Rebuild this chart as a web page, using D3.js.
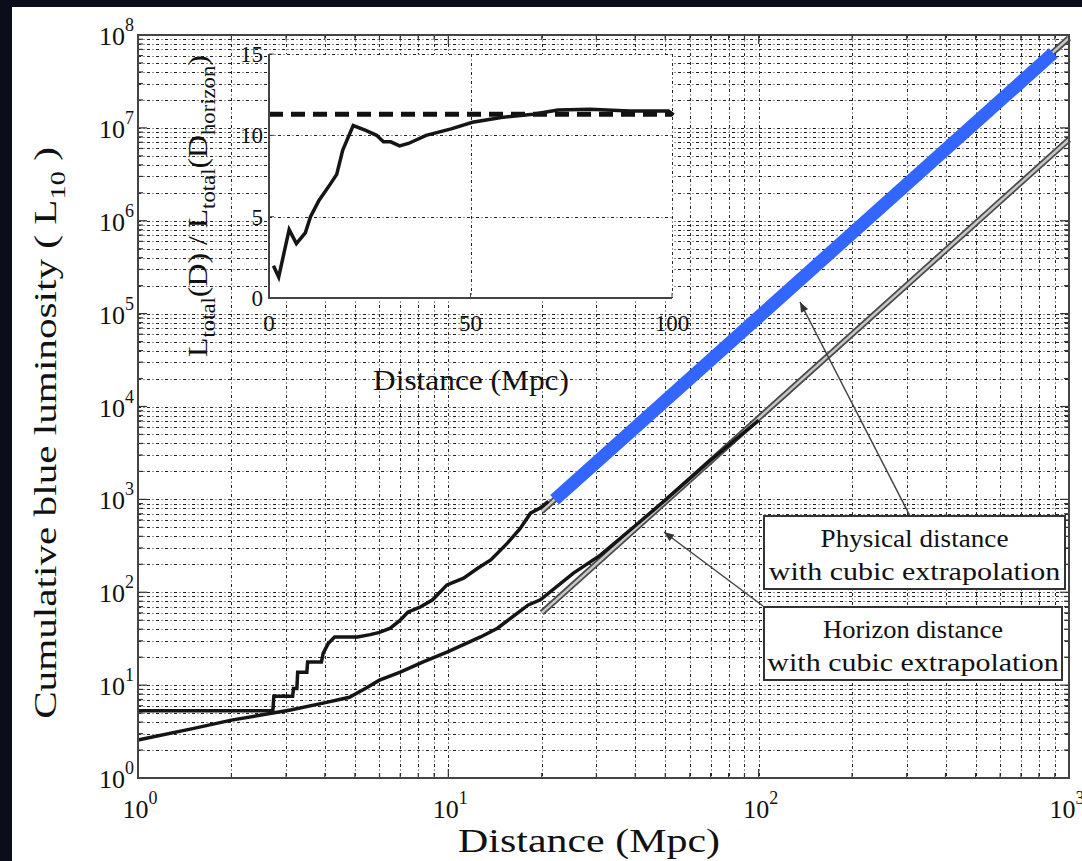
<!DOCTYPE html>
<html>
<head>
<meta charset="UTF-8">
<title>Cumulative blue luminosity</title>
<script src="https://d3js.org/d3.v7.min.js"></script>
<style>
  body { margin: 0; background: #0b0e1a; }
  text { font-family: "Liberation Serif", "DejaVu Serif", serif; fill: #111; }
</style>
</head>
<body>
<div id="chart"></div>
<script>
// main curves (Mpc, L10)
var physD = [1, 2.72, 2.74, 3.15, 3.17, 3.25, 3.27, 3.5, 3.52, 3.9, 3.95, 4.1, 4.3, 5.1, 5.6, 6.0, 6.5, 7.0, 7.4, 8.1, 8.9, 9.9, 11.2, 12.4, 13.7, 15.5, 17.0, 18.4, 19.8, 21.0];
var physL = [5.3, 5.3, 7.6, 7.6, 9.2, 9.2, 13.8, 13.8, 17.7, 17.7, 22, 28, 33, 33, 35, 37, 41, 50, 61, 69, 83, 120, 142, 180, 223, 338, 480, 710, 810, 950];
var horD = [1, 1.5, 2, 2.72, 3.1, 3.95, 4.8, 5.4, 6.0, 7.0, 8.3, 9.9, 12.7, 14.4, 18.1, 19.8, 25.3, 30.9, 40, 50, 70, 100];
var horL = [2.56, 3.4, 4.2, 5.0, 5.4, 6.4, 7.4, 9.2, 11.3, 13.8, 17.8, 22.7, 33, 41, 73, 83, 161, 251, 520, 980, 2650, 7100];

// cubic extrapolations
var physExtD = [20, 1000], physExtL = [745, 9.3e7];
var horExtD = [20, 1000], horExtL = [60, 7.5e6];
var blueD = [22, 890], blueL = [990, 6.4e7];

// inset: L_total(D) / L_total(D_horizon)
var ratioD = [1.1, 2.4, 5.0, 6.8, 9.0, 10.3, 12.4, 15.2, 16.8, 18.3, 20.9, 24, 26.7, 28.4, 30.2, 32.4, 34.6, 39, 45.2, 50.5, 57.6, 65.5, 71.7, 79.7, 89.4, 99.1, 100.4];
var ratioV = [1.98, 1.29, 4.2, 3.34, 4.0, 5.0, 6.0, 7.0, 7.6, 9.1, 10.6, 10.3, 10.0, 9.6, 9.6, 9.35, 9.5, 10.0, 10.4, 10.8, 11.1, 11.3, 11.55, 11.6, 11.5, 11.5, 11.25];
var ratioLevel = 11.3;

var xExp = [0, 1, 2, 3];
var yExp = [0, 1, 2, 3, 4, 5, 6, 7, 8];
var insetXTicks = [0, 50, 100];
var insetYTicks = [0, 5, 10, 15];

var W = 1082, H = 861;
var svg = d3.select("#chart").append("svg").attr("width", W).attr("height", H);

svg.append("rect").attr("width", W).attr("height", H).attr("fill", "#0b0e1a");
svg.append("rect").attr("x", 12).attr("y", 7).attr("width", W - 12).attr("height", H - 7).attr("fill", "#fff");

var x = d3.scaleLog().domain([1, 1000]).range([138, 1069]);
var y = d3.scaleLog().domain([1, 1e8]).range([778, 35]);

var gridDash = "3,2.5,1,2.5";

// minor + major log grid
var xv = [], yv = [];
for (var e = 0; e < 3; e++) for (var k = 1; k <= 9; k++) { var v = k * Math.pow(10, e); if (v > 1 && v < 1000) xv.push(v); }
for (var e2 = 0; e2 < 8; e2++) for (var k2 = 1; k2 <= 9; k2++) { var v2 = k2 * Math.pow(10, e2); if (v2 > 1 && v2 < 1e8) yv.push(v2); }

var grid = svg.append("g").attr("stroke", "#222").attr("stroke-width", 1).attr("stroke-dasharray", gridDash);
grid.selectAll(".gx").data(xv).enter().append("line")
  .attr("x1", function (d) { return Math.round(x(d)) + 0.5; }).attr("x2", function (d) { return Math.round(x(d)) + 0.5; })
  .attr("y1", 35).attr("y2", 778);
grid.selectAll(".gy").data(yv).enter().append("line")
  .attr("y1", function (d) { return Math.round(y(d)) + 0.5; }).attr("y2", function (d) { return Math.round(y(d)) + 0.5; })
  .attr("x1", 138).attr("x2", 1069);

// ticks inward on all sides
var tk = svg.append("g").attr("stroke", "#333").attr("stroke-width", 1.2);
xv.concat([1, 1000]).forEach(function (d) {
  var len = (Math.log10(d) % 1 === 0) ? 9 : 5;
  tk.append("line").attr("x1", x(d)).attr("x2", x(d)).attr("y1", 778).attr("y2", 778 - len);
  tk.append("line").attr("x1", x(d)).attr("x2", x(d)).attr("y1", 35).attr("y2", 35 + len);
});
yv.forEach(function (d) {
  var len = (Math.log10(d) % 1 === 0) ? 9 : 5;
  tk.append("line").attr("y1", y(d)).attr("y2", y(d)).attr("x1", 138).attr("x2", 138 + len);
  tk.append("line").attr("y1", y(d)).attr("y2", y(d)).attr("x1", 1069).attr("x2", 1069 - len);
});

function zip(a, b) { return a.map(function (d, i) { return [d, b[i]]; }); }
var line = d3.line().x(function (d) { return x(d[0]); }).y(function (d) { return y(d[1]); });

// grey extrapolation lines (double-line look)
[zip(physExtD, physExtL), zip(horExtD, horExtL)].forEach(function (pts) {
  svg.append("path").attr("d", line(pts)).attr("fill", "none").attr("stroke", "#4a4a4a").attr("stroke-width", 6);
  svg.append("path").attr("d", line(pts)).attr("fill", "none").attr("stroke", "#c8c8c8").attr("stroke-width", 2.5);
});

svg.append("path").attr("d", line(zip(horD, horL))).attr("fill", "none").attr("stroke", "#151515").attr("stroke-width", 3.5);
svg.append("path").attr("d", line(zip(physD, physL))).attr("fill", "none").attr("stroke", "#151515").attr("stroke-width", 3.5);

svg.append("path").attr("d", line(zip(blueD, blueL))).attr("fill", "none").attr("stroke", "#3366ff").attr("stroke-width", 13);

// axes box
svg.append("rect").attr("x", 138).attr("y", 35).attr("width", 931).attr("height", 743)
  .attr("fill", "none").attr("stroke", "#444").attr("stroke-width", 2);

// tick labels
var yl = svg.append("g").selectAll("text").data(yExp).enter().append("text")
  .attr("x", 134).attr("y", function (d) { return y(Math.pow(10, d)) + 10; })
  .attr("text-anchor", "end").style("font-size", "26px");
yl.append("tspan").text("10");
yl.append("tspan").attr("dy", -14).style("font-size", "18px").text(function (d) { return d; });

var xl = svg.append("g").selectAll("text").data(xExp).enter().append("text")
  .attr("x", function (d) { return x(Math.pow(10, d)) + (d === 3 ? -2 : 2); }).attr("y", 818)
  .attr("text-anchor", "middle").style("font-size", "26px");
xl.append("tspan").text("10");
xl.append("tspan").attr("dy", -14).style("font-size", "18px").text(function (d) { return d; });

// stretch a label to a target width
function fit(t, w) {
  var bw = t.node().getBBox().width;
  t.attr("transform", "scale(" + (w / bw) + ",1)");
}

var xlab = svg.append("g").attr("transform", "translate(589,852)");
fit(xlab.append("text").attr("text-anchor", "middle").style("font-size", "33px").text("Distance (Mpc)"), 262);

var ylab = svg.append("g").attr("transform", "translate(56,433) rotate(-90)");
var ylt = ylab.append("text").attr("text-anchor", "middle").style("font-size", "32px");
ylt.append("tspan").text("Cumulative blue luminosity ( L");
ylt.append("tspan").attr("dy", 9).style("font-size", "22px").text("10");
ylt.append("tspan").attr("dy", -9).text(" )");
fit(ylt, 572);

// ---- inset ----
var ix = d3.scaleLinear().domain([0, 100]).range([269, 672]);
var iy = d3.scaleLinear().domain([0, 15]).range([298, 54]);

svg.append("rect").attr("x", 269).attr("y", 54).attr("width", 403).attr("height", 244).attr("fill", "#fff");

var ig = svg.append("g").attr("stroke", "#222").attr("stroke-width", 1).attr("stroke-dasharray", gridDash);
[50, 100].forEach(function (d) {
  ig.append("line").attr("x1", Math.round(ix(d)) + 0.5).attr("x2", Math.round(ix(d)) + 0.5).attr("y1", 54).attr("y2", 298);
});
[5, 10, 15].forEach(function (d) {
  ig.append("line").attr("y1", Math.round(iy(d)) + 0.5).attr("y2", Math.round(iy(d)) + 0.5).attr("x1", 269).attr("x2", 672);
});

var iline = d3.line().x(function (d) { return ix(d[0]); }).y(function (d) { return iy(d[1]); });
svg.append("path").attr("d", iline([[0, ratioLevel], [100, ratioLevel]]))
  .attr("fill", "none").attr("stroke", "#111").attr("stroke-width", 5).attr("stroke-dasharray", "14,8");
svg.append("path").attr("d", iline(zip(ratioD, ratioV))).attr("fill", "none").attr("stroke", "#151515").attr("stroke-width", 3.5);

svg.append("path").attr("d", "M269,54V298H672").attr("fill", "none").attr("stroke", "#444").attr("stroke-width", 2);
insetXTicks.forEach(function (d) {
  svg.append("line").attr("x1", ix(d)).attr("x2", ix(d)).attr("y1", 298).attr("y2", 293).attr("stroke", "#444");
});
insetYTicks.forEach(function (d) {
  svg.append("line").attr("y1", iy(d)).attr("y2", iy(d)).attr("x1", 269).attr("x2", 274).attr("stroke", "#444");
});

svg.append("g").selectAll("text").data(insetYTicks).enter().append("text")
  .attr("x", 263).attr("y", function (d) { return iy(d) + 8; })
  .attr("text-anchor", "end").style("font-size", "23px").text(function (d) { return d; });
svg.append("g").selectAll("text").data(insetXTicks).enter().append("text")
  .attr("x", function (d) { return ix(d); }).attr("y", 331)
  .attr("text-anchor", "middle").style("font-size", "23px").text(function (d) { return d; });

var ixl = svg.append("g").attr("transform", "translate(471,390)");
fit(ixl.append("text").attr("text-anchor", "middle").style("font-size", "29px").text("Distance (Mpc)"), 196);

var iyl = svg.append("g").attr("transform", "translate(207,206) rotate(-90)");
var iyt = iyl.append("text").attr("text-anchor", "middle").style("font-size", "28px");
iyt.append("tspan").text("L");
iyt.append("tspan").attr("dy", 8).style("font-size", "20px").text("total");
iyt.append("tspan").attr("dy", -8).text("(D) / L");
iyt.append("tspan").attr("dy", 8).style("font-size", "20px").text("total");
iyt.append("tspan").attr("dy", -8).text("(D");
iyt.append("tspan").attr("dy", 8).style("font-size", "20px").text("horizon");
iyt.append("tspan").attr("dy", -8).text(")");
fit(iyt, 302);

// ---- annotations ----
var defs = svg.append("defs");
defs.append("marker").attr("id", "arr").attr("viewBox", "0 -5 10 10")
  .attr("refX", 10).attr("refY", 0).attr("markerWidth", 12).attr("markerHeight", 10)
  .attr("markerUnits", "userSpaceOnUse").attr("orient", "auto")
  .append("path").attr("d", "M0,-4L10,0L0,4Z").attr("fill", "#333");

svg.append("line").attr("x1", 910).attr("y1", 516).attr("x2", 800).attr("y2", 302)
  .attr("stroke", "#444").attr("stroke-width", 1.5).attr("marker-end", "url(#arr)");
svg.append("line").attr("x1", 763).attr("y1", 606).attr("x2", 664).attr("y2", 532)
  .attr("stroke", "#444").attr("stroke-width", 1.5).attr("marker-end", "url(#arr)");

var notes = [
  { x: 764, y: 516, w: 301, h: 73, l1: "Physical distance", l2: "with cubic extrapolation" },
  { x: 764, y: 607, w: 298, h: 73, l1: "Horizon distance", l2: "with cubic extrapolation" }
];
notes.forEach(function (n) {
  svg.append("rect").attr("x", n.x).attr("y", n.y).attr("width", n.w).attr("height", n.h)
    .attr("fill", "#fff").attr("stroke", "#333").attr("stroke-width", 2);
  var g1 = svg.append("g").attr("transform", "translate(" + (n.x + n.w / 2) + "," + (n.y + 31) + ")");
  fit(g1.append("text").attr("text-anchor", "middle").style("font-size", "25px").text(n.l1), n.l1.charAt(0) === "P" ? 188 : 180);
  var g2 = svg.append("g").attr("transform", "translate(" + (n.x + n.w / 2) + "," + (n.y + 64) + ")");
  fit(g2.append("text").attr("text-anchor", "middle").style("font-size", "25px").text(n.l2), 292);
});
</script>
</body>
</html>
